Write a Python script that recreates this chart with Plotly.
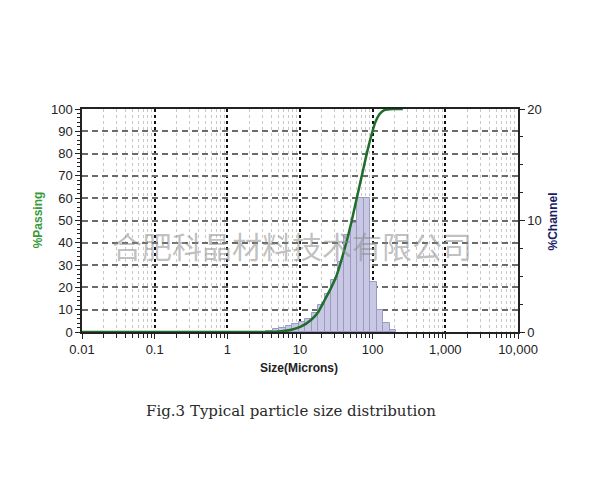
import numpy as np
import plotly.graph_objects as go

# Cumulative % passing curve (size in microns, % passing)
passing_size_um = [0.01, 1.0, 3.44, 5.53, 7.59, 10.42, 14.30, 17.85, 21.6, 26.95, 31.57, 36.99,
                   43.34, 50.77, 57.64, 65.42, 74.25, 84.27, 95.65, 108.6, 123.3, 144.4, 192.0, 260.0]
passing_pct = [0.0, 0.0, 0.0, 0.3, 1.0, 2.5, 5.5, 9.0, 14.0, 20.0, 25.0, 32.0,
               40.0, 49.0, 57.0, 65.0, 73.0, 81.0, 88.0, 94.0, 97.5, 99.5, 100.0, 100.0]

# Channel histogram: bin edges (microns) and % in channel
channel_edges_um = [3.44, 4.23, 5.19, 6.38, 7.84, 9.63, 11.83, 14.53, 17.85, 21.94, 26.95,
                    33.11, 40.68, 49.98, 61.40, 75.43, 92.69, 113.9, 139.9, 171.9, 211.2]
channel_pct = [0.1, 0.25, 0.4, 0.55, 0.7, 0.9, 1.2, 1.7, 2.4, 3.4, 4.7,
               6.3, 8.7, 9.8, 12.0, 12.0, 4.5, 2.0, 0.8, 0.2]

x_tick_um = [0.01, 0.1, 1, 10, 100, 1000, 10000]
x_ticktext = ["0.01", "0.1", "1", "10", "100", "1,000", "10,000"]
y_left_ticks = list(range(0, 101, 10))
y_right_ticks = [0, 10, 20]

# log10 scale helpers (the size axis is logarithmic)
x_tickvals = np.log10(x_tick_um)
minor_vals = np.log10([k * 10.0 ** n for n in range(-2, 4) for k in range(2, 10)])
edges_log = np.log10(np.array(channel_edges_um))
centers_log = (edges_log[:-1] + edges_log[1:]) / 2
widths_log = edges_log[1:] - edges_log[:-1]

fig = go.Figure()

# bars on the base (right, 0-20) axis so the passing line draws above them
fig.add_trace(go.Bar(
    x=centers_log, y=channel_pct, width=widths_log,
    xaxis="x", yaxis="y",
    marker=dict(color="rgb(200,200,228)", line=dict(color="#9a9ac2", width=1)),
    showlegend=False,
))

fig.add_trace(go.Scatter(
    x=np.log10(passing_size_um), y=passing_pct, mode="lines",
    xaxis="x", yaxis="y2",
    line=dict(color="#1f6e2a", width=2.5, shape="spline", smoothing=0.5),
    showlegend=False,
))

tickfont = dict(family="Liberation Sans, Arial", size=13, color="#222")

fig.update_layout(
    width=600, height=500,
    margin=dict(l=74, r=90, t=101, b=176),
    paper_bgcolor="white", plot_bgcolor="white",
    bargap=0,
    xaxis=dict(
        range=[-2, 4],
        tickmode="array", tickvals=x_tickvals, ticktext=x_ticktext,
        tickfont=tickfont, ticks="outside", ticklen=5, tickcolor="#222",
        showline=True, linecolor="#222", linewidth=1.5, mirror=True,
        showgrid=True, gridcolor="#111", griddash="dot", gridwidth=2,
        minor=dict(tickmode="array", tickvals=minor_vals, ticks="outside", ticklen=4,
                   tickcolor="#222", showgrid=True, gridcolor="#c8c8c8",
                   griddash="dot", gridwidth=1),
        zeroline=False,
    ),
    yaxis=dict(
        range=[0, 20], side="right",
        tickmode="array", tickvals=y_right_ticks, tickfont=tickfont,
        ticks="outside", ticklen=5, tickcolor="#222",
        showline=True, linecolor="#222", linewidth=1.5,
        showgrid=False, zeroline=False,
        minor=dict(dtick=2.5, ticks="outside", ticklen=3, tickcolor="#222", showgrid=False),
    ),
    yaxis2=dict(
        range=[0, 100], overlaying="y", side="left", anchor="x",
        tickmode="array", tickvals=y_left_ticks,
        tickfont=tickfont, ticks="outside", ticklen=5, tickcolor="#222",
        showline=True, linecolor="#222", linewidth=1.5,
        showgrid=True, gridcolor="#676d67", griddash="6px,4px", gridwidth=1.5,
        minor=dict(dtick=2, ticks="outside", ticklen=3, tickcolor="#222", showgrid=False),
        zeroline=False,
    ),
    annotations=[
        dict(text="%Passing", xref="paper", yref="paper", x=-0.101, y=0.505,
             xanchor="center", yanchor="middle", textangle=-90, showarrow=False,
             font=dict(family="Liberation Sans, Arial", size=12, color="#3a9a3a", weight="bold")),
        dict(text="%Channel", xref="paper", yref="paper", x=1.080, y=0.495,
             xanchor="center", yanchor="middle", textangle=-90, showarrow=False,
             font=dict(family="Liberation Sans, Arial", size=12, color="#1a1a66", weight="bold")),
        dict(text="Size(Microns)", xref="paper", yref="paper", x=0.497, y=-0.161,
             xanchor="center", yanchor="middle", showarrow=False,
             font=dict(family="Liberation Sans, Arial", size=12, color="#222", weight="bold")),
        dict(text="Fig.3 Typical particle size distribution", xref="paper", yref="paper",
             x=0.479, y=-0.354, xanchor="center", yanchor="middle", showarrow=False,
             font=dict(family="DejaVu Serif", size=15, color="#2a2a2a")),
        dict(text="合肥科晶材料技术有限公司", xref="paper", yref="paper",
             x=0.482, y=0.39, xanchor="center", yanchor="middle", showarrow=False,
             font=dict(family="Noto Sans CJK SC", size=30, color="rgba(140,140,140,0.55)")),
    ],
)

fig.write_html("out.html")
